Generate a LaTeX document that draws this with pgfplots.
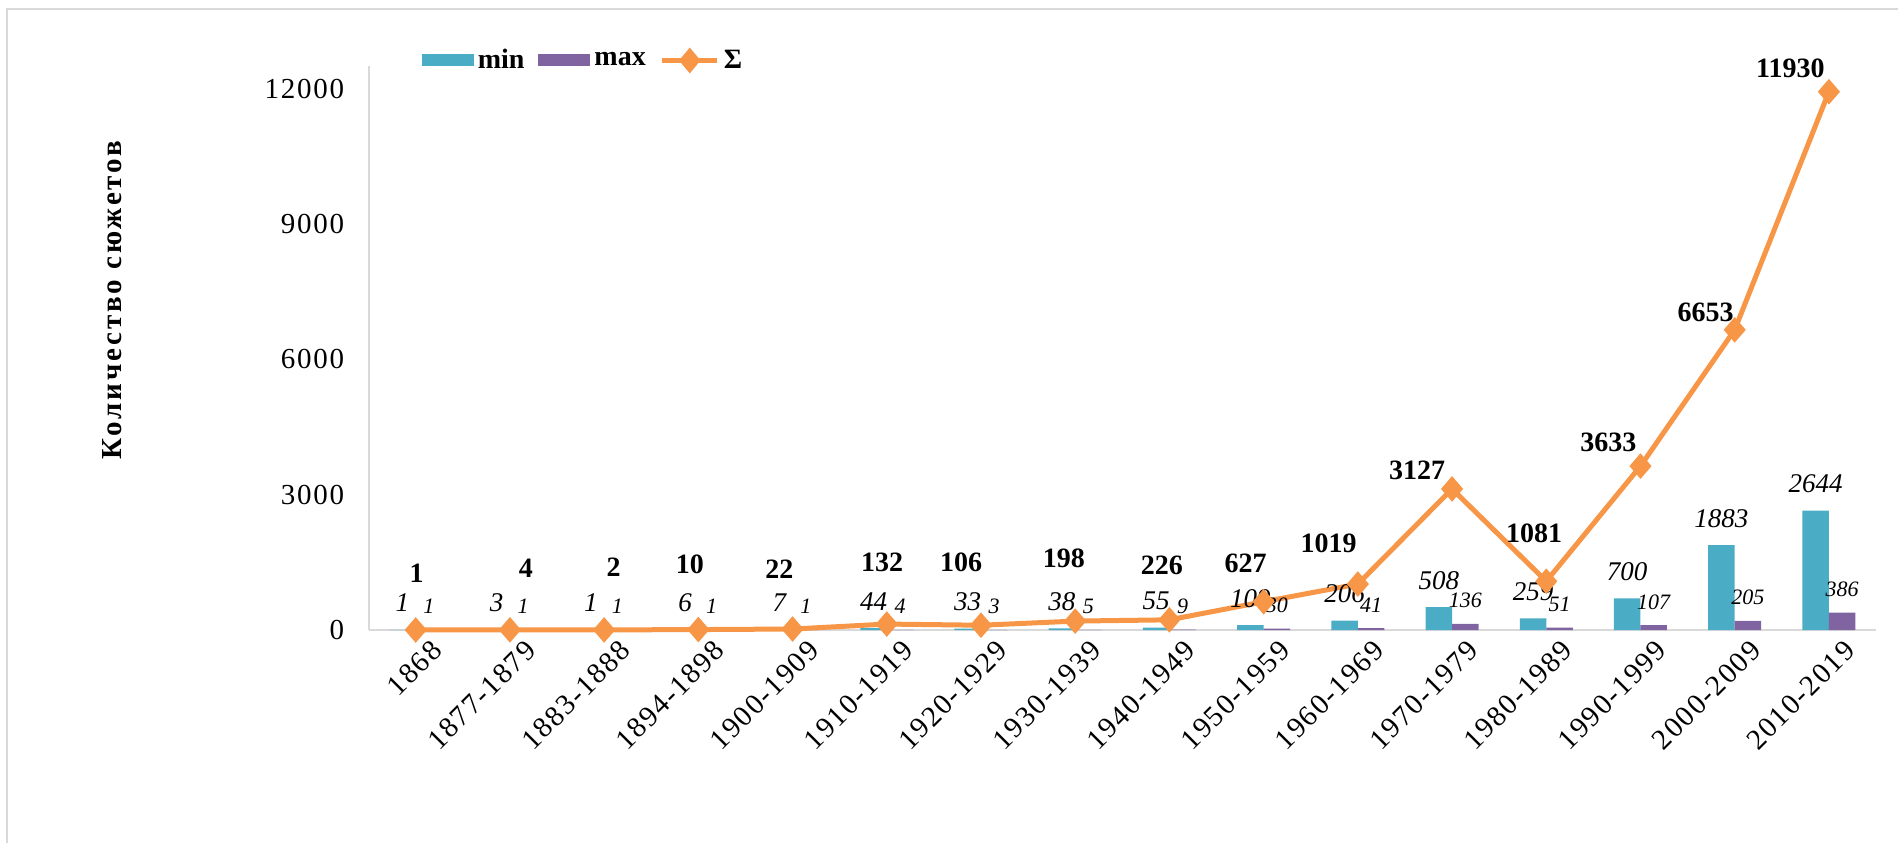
\documentclass[border=0pt]{standalone}
\usepackage{fontspec}
\setmainfont{Liberation Serif}
\newfontfamily\spacedfont[LetterSpace=10]{Liberation Serif}
\newfontfamily\tickfont[LetterSpace=6]{Liberation Serif}
\usepackage{pgfplots}
\pgfplotsset{compat=1.18}
\definecolor{cmin}{HTML}{4BACC6}
\definecolor{cmax}{HTML}{8064A2}
\definecolor{csum}{HTML}{F79646}
\definecolor{cax}{HTML}{D9D9D9}
\pgfplotsset{/pgf/number format/1000 sep={}, /pgf/number format/assume math mode=true}
\begin{document}
\begin{tikzpicture}
\useasboundingbox (0,0) rectangle (949pt,-421.5pt);
\draw[cax, line width=1pt] (3.5pt,-421.5pt) -- (3.5pt,-4.5pt) -- (949pt,-4.5pt);
\node[rotate=90, font=\fontsize{14.5}{16}\spacedfont\bfseries] at (56pt,-150pt) {Количество сюжетов};
\begin{axis}[
  at={(184.3pt,-315pt)}, anchor=south west,
  scale only axis, width=753.7pt, height=282pt,
  xmin=-0.5, xmax=15.5, ymin=0, ymax=12500,
  clip=false,
  axis x line*=bottom, axis y line*=left,
  axis line style={cax, line width=1pt, -},
  major tick length=0pt,
  ytick={0,3000,6000,9000,12000},
  scaled y ticks=false,
  yticklabel style={font=\fontsize{14.5}{16}\tickfont, inner sep=0pt, xshift=-12pt},
  xtick={0,...,15},
  xticklabels={1868,1877-1879,1883-1888,1894-1898,1900-1909,1910-1919,1920-1929,1930-1939,1940-1949,1950-1959,1960-1969,1970-1979,1980-1989,1990-1999,2000-2009,2010-2019},
  xticklabel style={rotate=45, anchor=north east, font=\fontsize{14.5}{16}\tickfont, inner sep=0pt, yshift=-8pt, xshift=2pt},
  legend columns=3,
  legend style={at={(0.035,1.0098)}, anchor=west, draw=none, fill=none, inner sep=0pt,
    font=\fontsize{14}{16}\selectfont\bfseries,
    /tikz/every even column/.append style={column sep=5pt}},
  legend cell align=left,
]
\addplot[ybar, bar width=13.25pt, bar shift=-6.625pt, fill=cmin, draw=none,
  nodes near coords,
  every node near coord/.append style={font=\fontsize{13.5}{15}\selectfont\itshape, anchor=base, inner sep=0pt, yshift=9pt, xshift=-6.625pt, text=black},
  legend image code/.code={\fill[cmin] (0pt,-3pt) rectangle (26pt,3pt);}]
coordinates {(0,1)(1,3)(2,1)(3,6)(4,7)(5,44)(6,33)(7,38)(8,55)(9,109)(10,206)(11,508)(12,259)(13,700)(14,1883)(15,2644)};
\addlegendentry{min}
\addplot[ybar, bar width=13.25pt, bar shift=6.625pt, fill=cmax, draw=none,
  nodes near coords,
  every node near coord/.append style={font=\fontsize{11}{13}\selectfont\itshape, anchor=base, inner sep=0pt, yshift=8pt, xshift=6.625pt, text=black},
  legend image code/.code={\fill[cmax] (0pt,-3pt) rectangle (26pt,3pt);}]
coordinates {(0,1)(1,1)(2,1)(3,1)(4,1)(5,4)(6,3)(7,5)(8,9)(9,30)(10,41)(11,136)(12,51)(13,107)(14,205)(15,386)};
\addlegendentry{max}
\addplot[csum, line width=2.5pt, mark=diamond*, mark size=4.5pt, mark options={xscale=1.15, solid},
  legend image code/.code={\draw[csum, line width=2.5pt] (0pt,0pt) -- (27.5pt,0pt);
     \fill[csum] (13.75pt,4.5pt) -- (17.5pt,0pt) -- (13.75pt,-4.5pt) -- (10pt,0pt) -- cycle;}]
coordinates {(0,1)(1,4)(2,2)(3,10)(4,22)(5,132)(6,106)(7,198)(8,226)(9,627)(10,1019)(11,3127)(12,1081)(13,3633)(14,6653)(15,11930)};
\addlegendentry{Σ}
\begin{scope}[every node/.style={font=\fontsize{14}{16}\selectfont\bfseries, inner sep=0pt}]
\node at (axis cs:0.01,1258) {1};
\node at (axis cs:1.17,1358) {4};
\node at (axis cs:2.10,1391) {2};
\node at (axis cs:2.91,1458) {10};
\node at (axis cs:3.86,1358) {22};
\node at (axis cs:4.95,1491) {132};
\node at (axis cs:5.79,1491) {106};
\node at (axis cs:6.88,1600) {198};
\node at (axis cs:7.92,1440) {226};
\node at (axis cs:8.81,1477) {627};
\node at (axis cs:9.69,1920) {1019};
\node at (axis cs:10.63,3545) {3127};
\node at (axis cs:11.87,2142) {1081};
\node at (axis cs:12.66,4150) {3633};
\node at (axis cs:13.69,7040) {6653};
\node at (axis cs:14.59,12446) {11930};
\end{scope}
\end{axis}
\end{tikzpicture}
\end{document}
